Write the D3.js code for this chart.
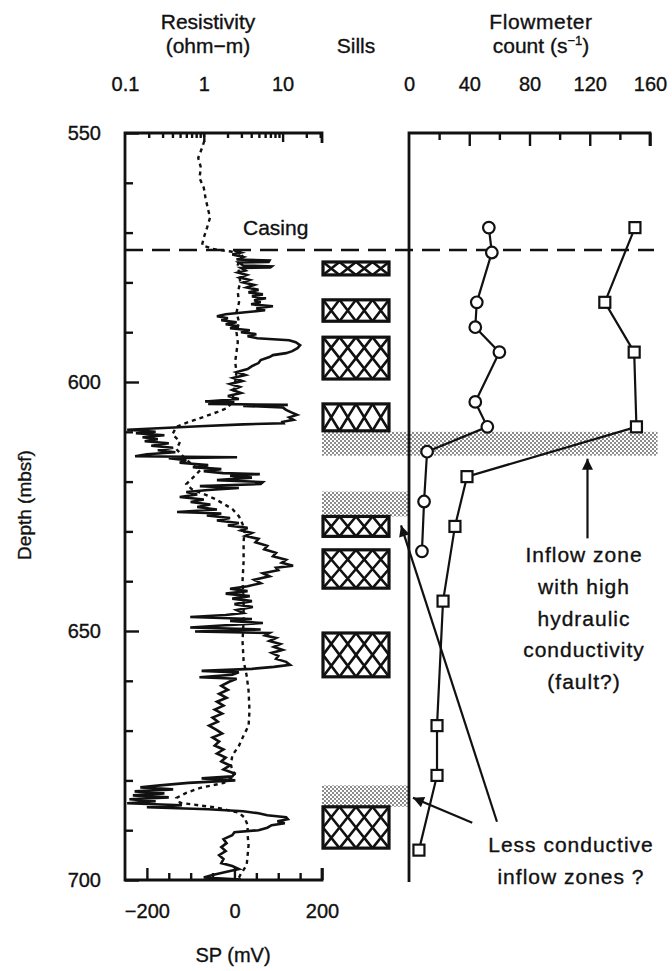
<!DOCTYPE html>
<html>
<head>
<meta charset="utf-8">
<script src="https://cdn.jsdelivr.net/npm/d3@7/dist/d3.min.js"></script>
<style>
    body { margin: 0; background: #fff; }
    text { font-family: 'Liberation Sans', Arial, sans-serif; fill: #111; stroke: #111; stroke-width: 0.35px; }
</style>
</head>
<body>
<svg id="chart" width="672" height="971"></svg>
<script>
'use strict';

// depth axis
var depthMajor = [550, 600, 650, 700];
var depthMinor = [560, 570, 580, 590, 610, 620, 630, 640, 660, 670, 680, 690];
var resLabels = [0.1, 1, 10];
var spLabels = [-200, 0, 200];
var spMinor = [-150, -100, -50, 50, 100, 150];
var flowLabels = [0, 40, 80, 120, 160];
var flowMinor = [20, 60, 100, 140];
var casingDepth = 573.5;

// SP log [depth, mV]
var spLog = [
    [573.6, 0], [574.0, 15], [574.4, -5], [574.9, 20], [575.4, 5], [575.6, 80], [575.9, 78], [576.0, 10],
    [576.6, 20], [576.8, 85], [577.0, 82], [577.1, 15], [577.6, 25], [578.0, 8], [578.5, 28], [579.0, 12],
    [579.5, 35], [580.0, 20], [580.5, 45], [581.0, 28], [581.5, 55], [582.0, 32], [582.4, 65], [582.8, 40],
    [583.2, 72], [583.6, 45], [584.0, 60], [584.4, 38], [584.8, 88], [585.2, 50], [585.6, 70], [586.0, 25],
    [586.4, -20], [586.8, -40], [587.2, -15], [587.6, -30], [588.0, 5], [588.4, -20], [588.8, 10], [589.2, -10],
    [589.6, 35], [590.0, 15], [590.4, 50], [590.8, 30], [591.2, 52], [591.6, 125], [592.0, 140], [592.6, 150],
    [593.2, 144], [593.8, 132], [594.2, 118], [594.6, 88], [595.0, 80], [595.6, 60], [596.2, 55], [596.8, 40],
    [597.4, 30], [598.0, 5], [598.6, 25], [599.2, -3], [599.8, 18], [600.4, -10], [601.0, 12], [601.6, -5],
    [602.2, 15], [602.8, -15], [603.4, 10], [603.9, -67], [604.1, 0], [604.4, -60], [604.6, 122], [604.8, 20],
    [605.1, 110], [605.6, 118], [606.1, 130], [606.6, 143], [607.1, 125], [607.6, 135], [608.0, 110], [608.3, 112],
    [608.5, 20], [608.9, -80], [609.2, -150], [609.6, -245], [610.0, -180], [610.3, -225], [610.7, -160], [611.1, -210],
    [611.5, -175], [611.9, -205], [612.3, -150], [612.8, -190], [613.2, -140], [613.7, -175], [614.1, -135], [614.5, -200],
    [614.9, -227], [615.1, 6], [615.3, -150], [615.7, -110], [616.2, -125], [616.7, -60], [617.1, -95], [617.5, -30],
    [617.9, -70], [618.3, -26], [618.5, 58], [618.8, -10], [619.2, 40], [619.7, -40], [620.1, 65], [620.5, 60],
    [620.9, -79], [621.3, 10], [621.7, -60], [622.1, -110], [622.6, -85], [623.1, -125], [623.6, -70], [624.1, -100],
    [624.6, -55], [625.1, -85], [625.6, -40], [626.1, -131], [626.4, -30], [626.8, -63], [627.3, -10], [627.8, -40],
    [628.3, 10], [628.8, -15], [629.3, 30], [629.8, 15], [630.3, 40], [630.9, 25], [631.5, 55], [632.2, 48],
    [632.9, 75], [633.6, 68], [634.3, 95], [635.0, 88], [635.7, 118], [636.3, 108], [636.9, 134], [637.3, 95],
    [637.8, 100], [638.4, 65], [639.0, 80], [639.7, 45], [640.4, 60], [641.0, 30], [641.5, -10], [642.0, 30],
    [642.5, -20], [643.0, 35], [643.5, -5], [644.0, 40], [644.6, 0], [645.2, 42], [645.8, 5], [646.4, 20],
    [646.8, -20], [647.2, -101], [647.6, 40], [648.0, -10], [648.4, 65], [648.9, -30], [649.3, -101], [649.7, 60],
    [650.1, -90], [650.4, 80], [650.9, 70], [651.4, 95], [652.0, 80], [652.6, 105], [653.2, 90], [653.8, 110],
    [654.4, 85], [655.0, 100], [655.6, 95], [656.2, 118], [656.8, 127], [657.2, 90], [657.6, 40], [658.0, -75],
    [658.3, 10], [658.8, -5], [659.3, -80], [659.6, 5], [660.2, -12], [661.0, -30], [661.8, -15], [662.6, -35],
    [663.4, -18], [664.2, -40], [665.0, -25], [665.8, -45], [666.6, -28], [667.4, -50], [668.2, -38], [669.0, -58],
    [669.8, -42], [670.6, -28], [671.4, -50], [672.2, -35], [673.0, -45], [673.8, -25], [674.6, -40], [675.4, -20],
    [676.2, -30], [677.0, -10], [677.8, -25], [678.6, 0], [679.2, -5], [679.6, -75], [680.0, 2], [680.5, -105],
    [681.0, -170], [681.4, -215], [681.8, -140], [682.2, -228], [682.6, -160], [683.0, -232], [683.4, -150], [683.8, -240],
    [684.2, -180], [684.6, -245], [685.0, -120], [685.4, -200], [685.8, -60], [686.2, 20], [686.6, 55], [687.0, 75],
    [687.4, 118], [687.8, 122], [688.2, 98], [688.6, 115], [689.0, 85], [689.5, 75], [690.0, 55], [690.4, 0],
    [691.0, -5], [691.8, -25], [692.6, -18], [693.4, -30], [694.2, -20], [695.0, -35], [695.8, -25], [696.6, -30],
    [697.2, -5], [697.8, 10], [698.4, -20], [699.0, -50], [699.5, -70], [699.9, 15]
];

// resistivity log [depth, ohm-m]
var resLog = [
    [550, 1.0], [551.5, 1.02], [553, 0.95], [555, 0.85], [557, 0.92], [559, 0.88], [561, 1.0], [563, 1.05],
    [565, 1.12], [567, 1.2], [569, 1.1], [571, 1.0], [572.5, 0.95], [573.3, 1.3], [573.8, 2.2], [574.4, 3.2],
    [575.2, 2.9], [576.5, 2.7], [578, 2.8], [580, 2.9], [582, 2.7], [584, 2.8], [586, 2.6], [588, 2.8],
    [590, 2.6], [592, 2.7], [594, 2.6], [596, 2.5], [598, 2.6], [600, 2.5], [602, 2.4], [604, 2.3],
    [605.2, 2.0], [606, 1.5], [607, 1.0], [608, 0.65], [609, 0.45], [610.5, 0.4], [612, 0.5], [613.5, 0.45],
    [615, 0.55], [616.5, 0.7], [617.7, 0.9], [619, 0.75], [620.5, 0.6], [621.5, 0.7], [622.5, 1.0], [623.5, 1.4],
    [624.5, 1.8], [625.5, 2.3], [627, 2.8], [628.5, 3.1], [630, 3.3], [632, 3.2], [636, 3.2], [640, 3.1],
    [644, 3.2], [648, 3.2], [652, 3.1], [656, 3.2], [659, 3.5], [662, 3.7], [666, 3.8], [669, 3.7],
    [671, 3.2], [673, 2.8], [675, 2.3], [677, 2.2], [679, 2.5], [680.5, 1.8], [681.5, 0.9], [682.5, 0.6],
    [683.5, 0.45], [684.5, 0.5], [685.5, 1.5], [686.5, 2.8], [687.5, 3.3], [689, 3.6], [691, 3.6], [693, 3.7],
    [695, 3.6], [697, 3.5], [699, 2.9], [700, 2.7]
];

// flowmeter counts
var circleDepths = [569, 574, 584, 589, 594, 604, 609, 614, 624, 634];
var circleCounts = [53, 55, 45, 44, 60, 44, 52, 12, 10, 8.6];
var squareDepths = [569, 584, 594, 609, 619, 629, 644, 669, 679, 694];
var squareCounts = [150, 130, 149.5, 151, 38.5, 30.5, 22.6, 18.6, 18.6, 6.6];

// sills [top, bottom]
var sills = [
    [575.9, 578.5], [583.5, 587.8], [591.0, 599.4], [604.4, 609.8],
    [627.0, 631.0], [633.7, 641.4], [650.4, 659.2], [685.3, 693.6]
];

// inflow zones [top, bottom, right edge in counts]
var inflowZones = [[610.0, 614.8, 165], [622.0, 627.0, 0], [681.0, 685.3, 0]];

var svg = d3.select('#chart');

var y = d3.scaleLinear().domain([550, 700]).range([133, 880]);
var xRes = d3.scaleLog().domain([0.1, 31.62]).range([125, 322]);
var xSp = d3.scaleLinear().domain([-250, 200]).range([125, 322]);
var xFlow = d3.scaleLinear().domain([0, 160]).range([409, 650]);
var sillLeft = 323, sillRight = 389;

var defs = svg.append('defs');

var stip = defs.append('pattern')
    .attr('id', 'stipple')
    .attr('patternUnits', 'userSpaceOnUse')
    .attr('width', 4)
    .attr('height', 4);
stip.append('circle').attr('cx', 1).attr('cy', 1).attr('r', 0.9).attr('fill', '#555');
stip.append('circle').attr('cx', 3).attr('cy', 3).attr('r', 0.9).attr('fill', '#555');

defs.append('marker')
    .attr('id', 'head')
    .attr('viewBox', '0 0 10 10')
    .attr('refX', 10)
    .attr('refY', 5)
    .attr('markerUnits', 'userSpaceOnUse')
    .attr('markerWidth', 16)
    .attr('markerHeight', 11)
    .attr('orient', 'auto')
    .append('path')
    .attr('d', 'M0,0L10,5L0,10z')
    .attr('fill', '#111');

// inflow zones (stipple)
svg.append('g').selectAll('rect')
    .data(inflowZones)
    .enter()
    .append('rect')
    .attr('x', 322)
    .attr('y', function (d) { return y(d[0]); })
    .attr('width', function (d) { return xFlow(d[2]) - 322; })
    .attr('height', function (d) { return y(d[1]) - y(d[0]); })
    .attr('fill', 'url(#stipple)');

// sills with cross hatch
var sillG = svg.append('g');
sills.forEach(function (s) {
    var top = y(s[0]), h = y(s[1]) - y(s[0]);
    var w = sillRight - sillLeft;
    var cols = 4, rows = Math.max(1, Math.round(h / 20));
    var cw = w / cols, rh = h / rows;
    var g = sillG.append('g');
    g.append('rect')
        .attr('x', sillLeft).attr('y', top)
        .attr('width', w).attr('height', h)
        .attr('fill', '#fff');
    for (var c = 0; c < cols; c++) {
        for (var r = 0; r < rows; r++) {
            var x0 = sillLeft + c * cw, y0 = top + r * rh;
            g.append('path')
                .attr('d', 'M' + x0 + ',' + y0 + 'L' + (x0 + cw) + ',' + (y0 + rh) +
                    'M' + (x0 + cw) + ',' + y0 + 'L' + x0 + ',' + (y0 + rh))
                .attr('stroke', '#111')
                .attr('stroke-width', 2.6)
                .attr('fill', 'none');
        }
    }
    g.append('rect')
        .attr('x', sillLeft).attr('y', top)
        .attr('width', w).attr('height', h)
        .attr('fill', 'none')
        .attr('stroke', '#111')
        .attr('stroke-width', 3.2);
});

// axes helper
function tickAxis(axis, tx, ty) {
    var g = svg.append('g')
        .attr('transform', 'translate(' + tx + ',' + ty + ')')
        .call(axis);
    g.select('.domain').remove();
    g.selectAll('line').attr('stroke', '#111').attr('stroke-width', 2.4);
    g.selectAll('text').attr('font-size', 20).attr('fill', '#111')
        .attr('font-family', "'Liberation Sans', Arial, sans-serif");
    return g;
}

// depth ticks
tickAxis(d3.axisRight(y).tickValues(depthMinor).tickSize(8).tickFormat(''), 125, 0);
tickAxis(d3.axisRight(y).tickValues(depthMajor).tickSize(14).tickFormat(''), 125, 0);
tickAxis(d3.axisLeft(y).tickValues(depthMajor).tickSize(0).tickPadding(24).tickFormat(d3.format('d')), 125, 0);

// resistivity ticks (top, log)
var resMinor = [0.2, 0.3, 0.4, 0.5, 0.6, 0.7, 0.8, 0.9, 2, 3, 4, 5, 6, 7, 8, 9, 20, 30];
tickAxis(d3.axisBottom(xRes).tickValues(resMinor).tickSize(5).tickFormat(''), 0, 133);
tickAxis(d3.axisBottom(xRes).tickValues([1, 10]).tickSize(9).tickFormat(''), 0, 133);
tickAxis(d3.axisTop(xRes).tickValues(resLabels).tickSize(0).tickPadding(42).tickFormat(function (d) { return String(d); }), 0, 133);

// SP ticks (bottom)
tickAxis(d3.axisTop(xSp).tickValues(spMinor).tickSize(7).tickFormat(''), 0, 880);
tickAxis(d3.axisTop(xSp).tickValues(spLabels).tickSize(12).tickFormat(''), 0, 880);
tickAxis(d3.axisBottom(xSp).tickValues(spLabels).tickSize(0).tickPadding(24).tickFormat(function (d) { return d < 0 ? '\u2212' + Math.abs(d) : String(d); }), 0, 880);

// flowmeter ticks
tickAxis(d3.axisBottom(xFlow).tickValues(flowMinor).tickSize(7).tickFormat(''), 0, 133);
tickAxis(d3.axisBottom(xFlow).tickValues(flowLabels.slice(1)).tickSize(13).tickFormat(''), 0, 133);
tickAxis(d3.axisTop(xFlow).tickValues(flowLabels).tickSize(0).tickPadding(42).tickFormat(d3.format('d')), 0, 133);

// frames
var frame = svg.append('g').attr('stroke', '#111').attr('stroke-width', 2.8).attr('fill', 'none');
frame.append('path').attr('d', 'M' + xSp(200) + ',' + (y(550) + 10) + 'V' + y(550) + 'H' + xRes(0.1) +
    'V' + y(700) + 'H' + xSp(200) + 'V' + (y(700) - 12));
frame.append('path').attr('d', 'M' + xFlow(0) + ',' + (y(700) + 2) + 'V' + y(550) + 'H' + xFlow(160) + 'V' + (y(550) + 13));

// clip for logs
defs.append('clipPath').attr('id', 'logClip')
    .append('rect').attr('x', 125).attr('y', 133).attr('width', 197).attr('height', 747);

var logs = svg.append('g').attr('clip-path', 'url(#logClip)');

logs.append('path')
    .datum(resLog)
    .attr('d', d3.line()
        .x(function (d) { return xRes(d[1]); })
        .y(function (d) { return y(d[0]); }))
    .attr('fill', 'none')
    .attr('stroke', '#111')
    .attr('stroke-width', 2.4)
    .attr('stroke-dasharray', '4,4');

logs.append('path')
    .datum(spLog)
    .attr('d', d3.line()
        .x(function (d) { return xSp(d[1]); })
        .y(function (d) { return y(d[0]); }))
    .attr('fill', 'none')
    .attr('stroke', '#111')
    .attr('stroke-width', 2.6)
    .attr('stroke-linejoin', 'miter');

// casing
svg.append('line')
    .attr('x1', 125).attr('x2', 654)
    .attr('y1', y(casingDepth)).attr('y2', y(casingDepth))
    .attr('stroke', '#111')
    .attr('stroke-width', 2.4)
    .attr('stroke-dasharray', '18,9');
svg.append('text').attr('x', 243).attr('y', 235).attr('font-size', 21).text('Casing');

// flowmeter series
var circles = circleDepths.map(function (d, i) { return [d, circleCounts[i]]; });
var squares = squareDepths.map(function (d, i) { return [d, squareCounts[i]]; });
var flowLine = d3.line()
    .x(function (d) { return xFlow(d[1]); })
    .y(function (d) { return y(d[0]); });

[circles, squares].forEach(function (series) {
    svg.append('path')
        .datum(series)
        .attr('d', flowLine)
        .attr('fill', 'none')
        .attr('stroke', '#111')
        .attr('stroke-width', 2.2);
});

svg.append('g').selectAll('circle')
    .data(circles)
    .enter()
    .append('circle')
    .attr('cx', function (d) { return xFlow(d[1]); })
    .attr('cy', function (d) { return y(d[0]); })
    .attr('r', 5.8)
    .attr('fill', '#fff')
    .attr('stroke', '#111')
    .attr('stroke-width', 2.2);

svg.append('g').selectAll('rect')
    .data(squares)
    .enter()
    .append('rect')
    .attr('x', function (d) { return xFlow(d[1]) - 5.5; })
    .attr('y', function (d) { return y(d[0]) - 5.5; })
    .attr('width', 11)
    .attr('height', 11)
    .attr('fill', '#fff')
    .attr('stroke', '#111')
    .attr('stroke-width', 2.2);

// annotation arrows
var arrows = [
    [[631.4, 118.5], [615.4, 118.5]],
    [[688.5, 42], [683.5, 2.6]],
    [[688.3, 58.4], [628.8, -5.3]]
];
svg.append('g').selectAll('line')
    .data(arrows)
    .enter()
    .append('line')
    .attr('x1', function (d) { return xFlow(d[0][1]); })
    .attr('y1', function (d) { return y(d[0][0]); })
    .attr('x2', function (d) { return xFlow(d[1][1]); })
    .attr('y2', function (d) { return y(d[1][0]); })
    .attr('stroke', '#111')
    .attr('stroke-width', 2.2)
    .attr('marker-end', 'url(#head)');

// titles and notes
function label(x, yy, txt, size, anchor) {
    return svg.append('text')
        .attr('x', x).attr('y', yy)
        .attr('font-size', size)
        .attr('text-anchor', anchor || 'middle')
        .text(txt);
}
label(208, 29, 'Resistivity', 21);
label(208, 53, '(ohm\u2212m)', 21);
label(356, 53, 'Sills', 21);
label(541, 29, 'Flowmeter', 21).attr('letter-spacing', 0.6);
var ct = label(541, 53, 'count (s', 21);
ct.append('tspan').attr('font-size', 13).attr('dy', -8).text('\u22121');
ct.append('tspan').attr('dy', 8).text(')');

label(233, 962, 'SP (mV)', 20);
svg.append('text')
    .attr('transform', 'translate(31,505) rotate(-90)')
    .attr('text-anchor', 'middle')
    .attr('font-size', 19)
    .text('Depth (mbsf)');

var notes = [
    [584, 562, 'Inflow zone'], [584, 594, 'with high'], [584, 626, 'hydraulic'],
    [584, 657, 'conductivity'], [584, 689, '(fault?)'],
    [571, 852, 'Less conductive'], [571, 884, 'inflow zones ?']
];
notes.forEach(function (n) {
    label(n[0], n[1], n[2], 21).attr('letter-spacing', 1);
});
</script>
</body>
</html>
